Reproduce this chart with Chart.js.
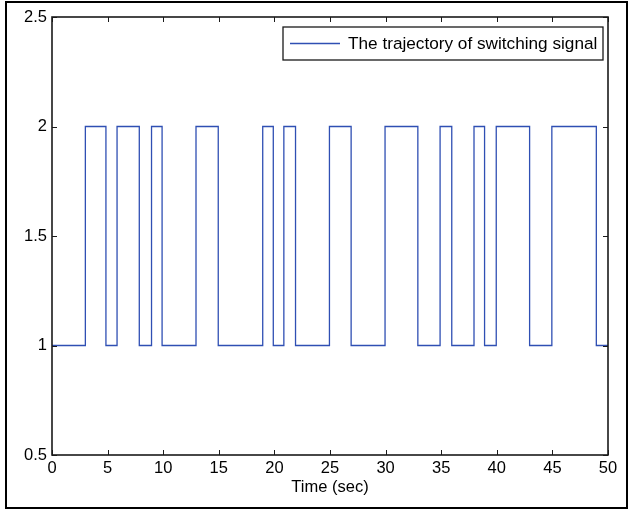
<!DOCTYPE html>
<html>
<head>
<meta charset="utf-8">
<title>Switching signal</title>
<script src="https://cdn.jsdelivr.net/npm/chart.js@4.4.0/dist/chart.umd.min.js"></script>
<style>
    html, body { margin: 0; padding: 0; background: #fff; }
    #wrap { width: 633px; height: 511px; }
</style>
</head>
<body>
<div id="wrap"><canvas id="switchChart" width="633" height="511"></canvas></div>
<script>
// Switching instants (sec) and the level the signal takes at each instant
const switchTimes = [0, 3.0, 4.85, 5.85, 7.85, 8.95, 9.9, 12.95, 14.95, 18.95, 19.9, 20.85, 21.9,
    24.95, 26.9, 29.95, 32.9, 34.9, 35.95, 37.95, 38.9, 39.95, 42.95, 44.95, 48.95, 50];
const signalLevels = [1, 2, 1, 2, 1, 2, 1, 2, 1, 2, 1, 2, 1,
    2, 1, 2, 1, 2, 1, 2, 1, 2, 1, 2, 1, 1];

// Axis ticks and texts
const xTicks = [0, 5, 10, 15, 20, 25, 30, 35, 40, 45, 50];
const yTicks = [0.5, 1, 1.5, 2, 2.5];
const seriesLabel = 'The trajectory of switching signal';
const xTitle = 'Time (sec)';

const lineColor = '#2f4fb3';
const axisColor = '#1a1a1a';
const fontFamily = '"Liberation Sans", Arial, Helvetica, sans-serif';

// Draws the matlab style box, inward ticks, legend and outer frame
const matlabAxes = {
    id: 'matlabAxes',
    afterDatasetsDraw(chart) {
        const { ctx, chartArea: a, scales } = chart;
        const x = scales.x, y = scales.y;
        ctx.save();

        // inward ticks on all four sides
        ctx.strokeStyle = axisColor;
        ctx.lineWidth = 1;
        ctx.beginPath();
        xTicks.forEach(v => {
            const px = Math.round(x.getPixelForValue(v)) + 0.5;
            ctx.moveTo(px, a.bottom); ctx.lineTo(px, a.bottom - 5);
            ctx.moveTo(px, a.top); ctx.lineTo(px, a.top + 5);
        });
        yTicks.forEach(v => {
            const py = Math.round(y.getPixelForValue(v)) + 0.5;
            ctx.moveTo(a.left, py); ctx.lineTo(a.left + 5, py);
            ctx.moveTo(a.right, py); ctx.lineTo(a.right - 5, py);
        });
        ctx.stroke();

        // axes box
        ctx.lineWidth = 1.6;
        ctx.strokeRect(a.left, a.top, a.right - a.left, a.bottom - a.top);

        // legend box, top right inside the axes
        const lw = 320, lh = 33;
        const lx = a.right - 5 - lw, ly = a.top + 10;
        ctx.fillStyle = '#fff';
        ctx.fillRect(lx, ly, lw, lh);
        ctx.lineWidth = 1.3;
        ctx.strokeRect(lx, ly, lw, lh);
        ctx.strokeStyle = lineColor;
        ctx.lineWidth = 1.3;
        ctx.beginPath();
        ctx.moveTo(lx + 7, ly + lh / 2);
        ctx.lineTo(lx + 57, ly + lh / 2);
        ctx.stroke();
        ctx.fillStyle = '#000';
        ctx.font = '17.2px ' + fontFamily;
        ctx.textBaseline = 'middle';
        ctx.textAlign = 'left';
        ctx.fillText(seriesLabel, lx + 65, ly + lh / 2 + 1);

        // outer frame of the figure
        ctx.strokeStyle = '#000';
        ctx.lineWidth = 2;
        ctx.strokeRect(6, 2, 621, 506);
        ctx.restore();
    }
};

new Chart(document.getElementById('switchChart'), {
    type: 'line',
    data: {
        datasets: [{
            label: seriesLabel,
            data: switchTimes.map((t, i) => ({ x: t, y: signalLevels[i] })),
            borderColor: lineColor,
            borderWidth: 1.3,
            stepped: true,
            pointRadius: 0,
            fill: false
        }]
    },
    options: {
        responsive: false,
        animation: false,
        layout: { padding: { top: 17, right: 25, left: 0, bottom: 0 } },
        plugins: {
            legend: { display: false },
            tooltip: { enabled: false }
        },
        scales: {
            x: {
                type: 'linear',
                min: 0,
                max: 50,
                afterBuildTicks: s => { s.ticks = xTicks.map(v => ({ value: v })); },
                afterFit: s => { s.height = 56; },
                grid: { display: false, drawTicks: false },
                border: { display: false },
                ticks: {
                    padding: 4,
                    color: '#000',
                    maxRotation: 0,
                    font: { family: fontFamily, size: 16.5 },
                    callback: v => String(v)
                },
                title: {
                    display: true,
                    text: xTitle,
                    color: '#000',
                    font: { family: fontFamily, size: 16.5 },
                    padding: { top: 0, bottom: 14 }
                }
            },
            y: {
                type: 'linear',
                min: 0.5,
                max: 2.5,
                afterBuildTicks: s => { s.ticks = yTicks.map(v => ({ value: v })); },
                afterFit: s => { s.width = 52; },
                grid: { display: false, drawTicks: false },
                border: { display: false },
                ticks: {
                    padding: 5,
                    color: '#000',
                    font: { family: fontFamily, size: 16.5 },
                    callback: v => String(v)
                }
            }
        }
    },
    plugins: [matlabAxes]
});
</script>
</body>
</html>
